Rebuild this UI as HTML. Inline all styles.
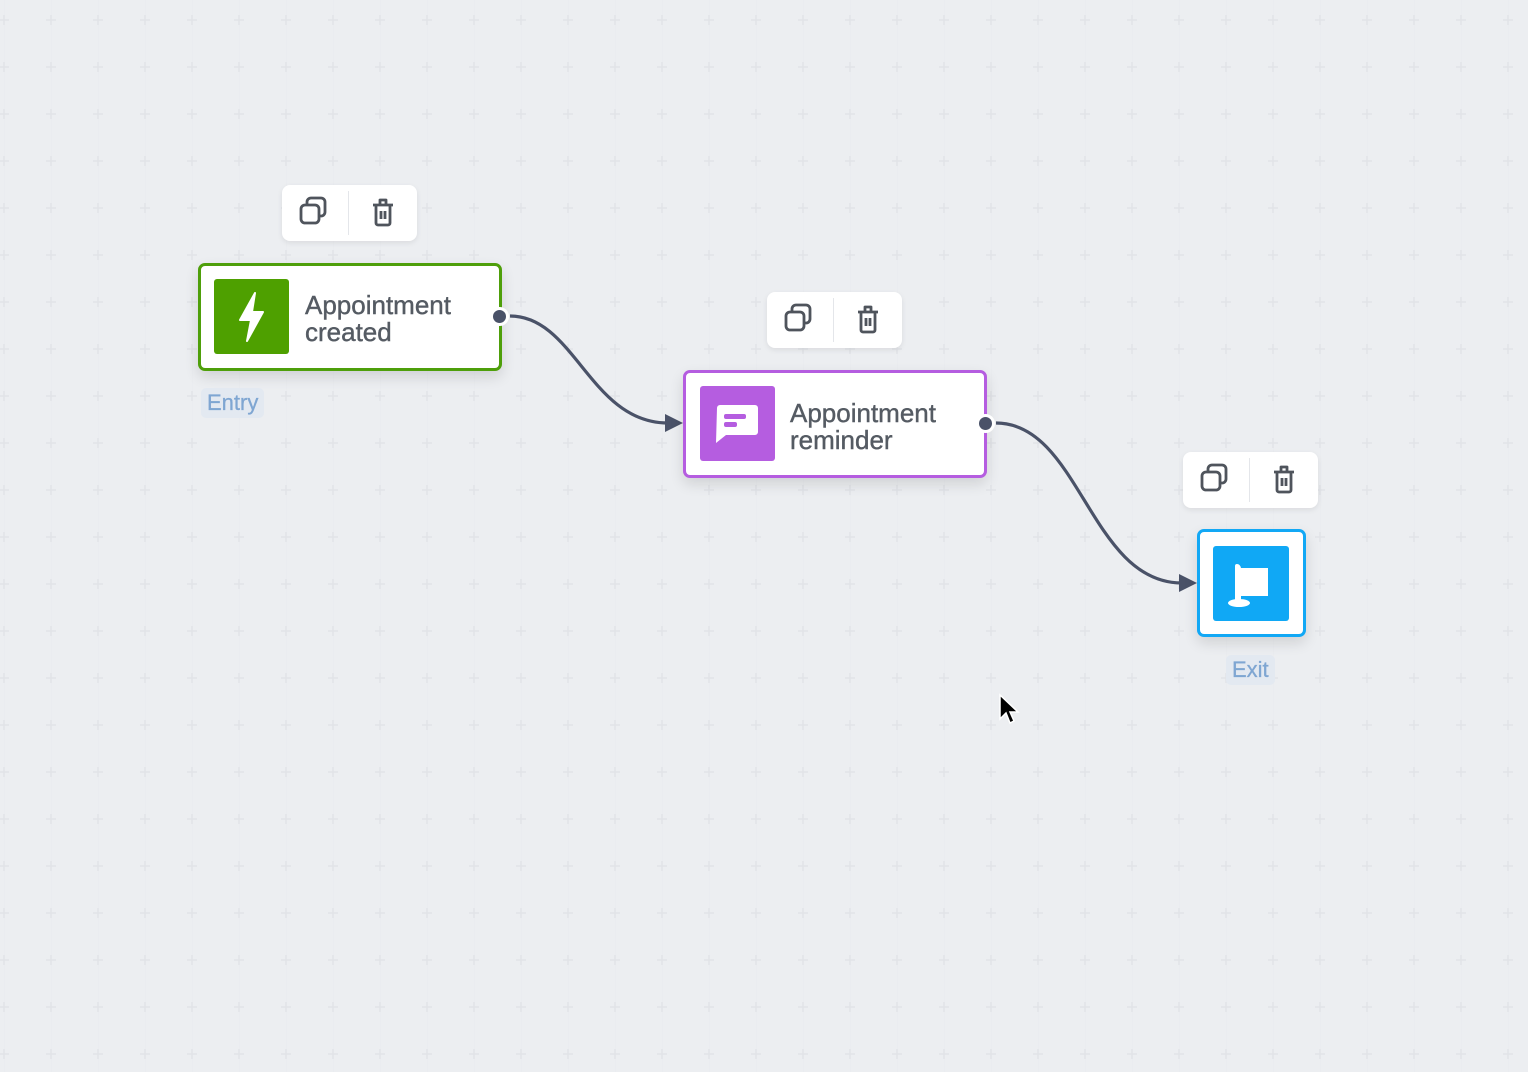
<!DOCTYPE html>
<html><head><meta charset="utf-8">
<style>
*{margin:0;padding:0;box-sizing:border-box}
html,body{width:1528px;height:1072px;overflow:hidden;background:#eceef1;font-family:"Liberation Sans",sans-serif}
.abs{position:absolute}
.tb{position:absolute;width:135px;height:56px;background:#fff;border-radius:8px;box-shadow:0 2px 6px rgba(0,0,0,0.08)}
.tb .div{position:absolute;left:66px;top:6px;width:1px;height:44px;background:#e4e6ea}
.node{position:absolute;background:#fff;border:3px solid;border-radius:7px;box-shadow:0 6px 14px rgba(0,0,0,0.12)}
.ic{position:absolute;border-radius:3px}
.txt{position:absolute;font-size:26px;line-height:27px;color:#555b63;-webkit-text-stroke:0.4px #555b63}
.lbl{position:absolute;font-size:22px;color:#7fa6d2;background:#e3e9f1;border-radius:5px;padding:0 6px;line-height:30px;-webkit-text-stroke:0.3px #7fa6d2}
</style></head><body>
<svg class="abs" style="left:0;top:0" width="1528" height="1072">
<defs>
<pattern id="g" x="4" y="20" width="47" height="47" patternUnits="userSpaceOnUse">
<line x1="0" y1="0" x2="0" y2="47" stroke="#e8eaee" stroke-width="1"/>
<path d="M-5 0H5M0 -5V5M42 0H52M47 -5V5M-5 47H5M0 42V52M42 47H52M47 42V52" stroke="#e1e3e8" stroke-width="1.5"/>
</pattern>
</defs>
<rect width="1528" height="1072" fill="url(#g)"/>
<path d="M510 316 C575 316 590 423 668 423" fill="none" stroke="#4a5268" stroke-width="3.2"/>
<polygon points="665,414 683,423 665,432" fill="#4a5268"/>
<path d="M996 423 C1080 423 1090 583 1182 583" fill="none" stroke="#4a5268" stroke-width="3.2"/>
<polygon points="1179,574 1197,583 1179,592" fill="#4a5268"/>
</svg>

<div class="tb" style="left:282px;top:185px"><div class="div"></div>
<svg class="abs" style="left:0;top:0" width="135" height="56"><g fill="none" stroke="#4f545c" stroke-width="2.8" stroke-linejoin="round"><rect x="19" y="20" width="18" height="18" rx="4"/><path d="M25 19V17a4 4 0 0 1 4-4h10a4 4 0 0 1 4 4v10a4 4 0 0 1-4 4h-2"/><path d="M91 20H111M98 20V15h6v5M94 21v17a2 2 0 0 0 2 2h10a2 2 0 0 0 2-2V21"/><path d="M99 26v8M103 26v8"/></g></svg></div>
<div class="tb" style="left:767px;top:292px"><div class="div"></div>
<svg class="abs" style="left:0;top:0" width="135" height="56"><g fill="none" stroke="#4f545c" stroke-width="2.8" stroke-linejoin="round"><rect x="19" y="20" width="18" height="18" rx="4"/><path d="M25 19V17a4 4 0 0 1 4-4h10a4 4 0 0 1 4 4v10a4 4 0 0 1-4 4h-2"/><path d="M91 20H111M98 20V15h6v5M94 21v17a2 2 0 0 0 2 2h10a2 2 0 0 0 2-2V21"/><path d="M99 26v8M103 26v8"/></g></svg></div>
<div class="tb" style="left:1183px;top:452px"><div class="div"></div>
<svg class="abs" style="left:0;top:0" width="135" height="56"><g fill="none" stroke="#4f545c" stroke-width="2.8" stroke-linejoin="round"><rect x="19" y="20" width="18" height="18" rx="4"/><path d="M25 19V17a4 4 0 0 1 4-4h10a4 4 0 0 1 4 4v10a4 4 0 0 1-4 4h-2"/><path d="M91 20H111M98 20V15h6v5M94 21v17a2 2 0 0 0 2 2h10a2 2 0 0 0 2-2V21"/><path d="M99 26v8M103 26v8"/></g></svg></div>

<div class="node" style="left:198px;top:263px;width:304px;height:108px;border-color:#4e9f0a"></div>
<div class="ic" style="left:214px;top:279px;width:75px;height:75px;background:#4ea000">
<svg width="75" height="75"><path d="M41 14 L26 41 H37 L33 62 L49 33 H38 Z" fill="#fff" stroke="#fff" stroke-width="2" stroke-linejoin="round"/></svg></div>
<div class="txt" style="left:305px;top:292px">Appointment<br>created</div>
<div class="abs" style="left:490px;top:307px;width:19px;height:19px;border-radius:50%;background:#4a5268;border:3px solid #fff"></div>
<div class="lbl" style="left:201px;top:388px">Entry</div>

<div class="node" style="left:683px;top:370px;width:304px;height:108px;border-color:#b55de0"></div>
<div class="ic" style="left:700px;top:386px;width:75px;height:75px;background:#b55de0">
<svg width="75" height="75"><path d="M17 22 a3 3 0 0 1 3-3 H55 a3 3 0 0 1 3 3 V46 a3 3 0 0 1-3 3 H26 L16 57 Z" fill="#fff"/><rect x="24" y="28" width="22" height="5" rx="2" fill="#b55de0"/><rect x="24" y="36" width="13" height="5" rx="2" fill="#b55de0"/></svg></div>
<div class="txt" style="left:790px;top:400px">Appointment<br>reminder</div>
<div class="abs" style="left:976px;top:414px;width:19px;height:19px;border-radius:50%;background:#4a5268;border:3px solid #fff"></div>

<div class="node" style="left:1197px;top:529px;width:109px;height:108px;border-color:#12a8f5"></div>
<div class="ic" style="left:1213px;top:546px;width:76px;height:75px;background:#10a8f5">
<svg width="76" height="75"><path d="M22 20 q0-2 2-2 q3 0 4 4 h27 v28 h-27 v10 h-6 Z" fill="#fff"/><ellipse cx="26" cy="57" rx="11" ry="4" fill="#fff"/></svg></div>
<div class="lbl" style="left:1226px;top:655px">Exit</div>

<svg class="abs" style="left:995px;top:692px" width="30" height="40"><path d="M5 3 L5 27 L11 21 L15 31 L19 29 L15 20 L23 20 Z" fill="#000" stroke="#fff" stroke-width="1.5"/></svg>
</body></html>
